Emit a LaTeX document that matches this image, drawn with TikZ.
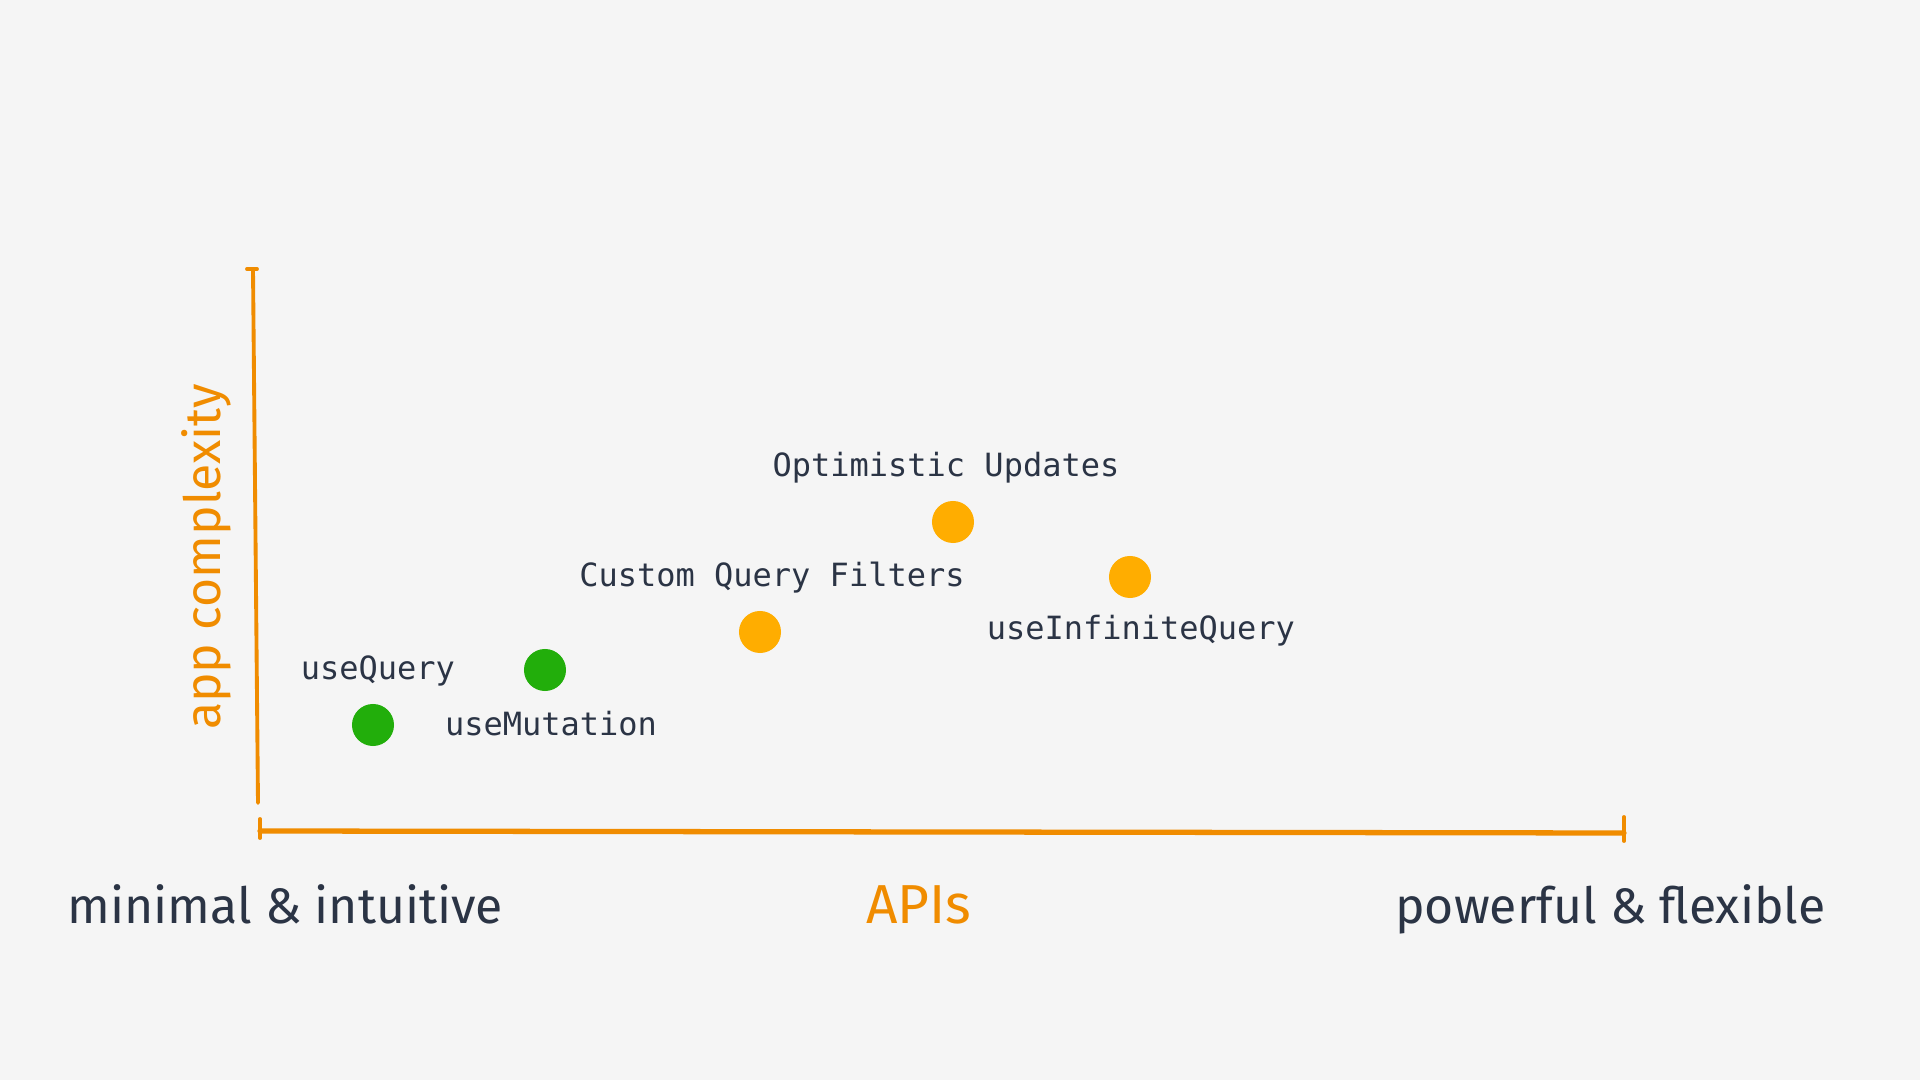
\documentclass[tikz,border=0pt]{standalone}
\usepackage{fontspec}
\setmainfont{Fira Sans}
\newfontfamily\codefont{DejaVu Sans Mono}
\usepackage{xcolor}
\usetikzlibrary{positioning}

\definecolor{paper}{HTML}{F5F5F5}
\definecolor{axisorange}{HTML}{F08C00}
\definecolor{ink}{HTML}{2B3445}
\definecolor{dotgreen}{HTML}{22AE0B}
\definecolor{dotamber}{HTML}{FFAD00}

\tikzset{
  axisline/.style={draw=axisorange, line width=1.1pt, line cap=round},
  tickline/.style={draw=axisorange, line width=1.1pt, line cap=round},
  apidot/.style={circle, inner sep=0pt, minimum size=0.42cm},
  apilabel/.style={font=\codefont\fontsize{9.1}{11}\selectfont, text=ink, inner sep=0pt},
  handtext/.style={font=\fontsize{14.2}{17}\selectfont, inner sep=0pt}
}

\begin{document}
\begin{tikzpicture}[x=0.01cm, y=-0.01cm, node distance=0.54cm, on grid]
    \fill[paper] (0,0) rectangle (1920,1080);
    \useasboundingbox (0,0) rectangle (1920,1080);

    % axes
    \coordinate (ytop) at (253,269);
    \coordinate (origin) at (258,803);
    \coordinate (xleft) at (260,831);
    \coordinate (xright) at (1624,833);
    \draw[axisline] (ytop) -- (origin);
    \draw[axisline, line width=1.5pt] (xleft) -- (xright);
    \draw[tickline] ([shift={(-6,0)}]ytop) -- ([shift={(4,0)}]ytop);
    \draw[tickline] ([shift={(0,-12)}]xleft) -- ([shift={(0,7)}]xleft);
    \draw[tickline] ([shift={(0,-16)}]xright) -- ([shift={(0,8)}]xright);

    % dots
    \node[apidot, fill=dotgreen] (query)    at (373,725) {};
    \node[apidot, fill=dotgreen] (mutation) at (545,670) {};
    \node[apidot, fill=dotamber] (filters)  at (760,632) {};
    \node[apidot, fill=dotamber] (optimist) at (953,522) {};
    \node[apidot, fill=dotamber] (infinite) at (1130,577) {};

    % labels
    \node[apilabel, xshift=1.4pt] (querylbl)    [above=of query]    {useQuery};
    \node[apilabel, xshift=1.7pt] (mutationlbl) [below=of mutation] {useMutation};
    \node[apilabel, xshift=3.4pt] (filterslbl)  [above=of filters]  {Custom Query Filters};
    \node[apilabel, xshift=-2pt]  (optimistlbl) [above=of optimist] {Optimistic Updates};
    \node[apilabel, xshift=3.1pt] (infinitelbl) [below=of infinite] {useInfiniteQuery};

    % axis titles
    \node[handtext, text=axisorange, rotate=90] (ytitle) at (206,557) {app complexity};
    \node[handtext, text=ink, anchor=base west] (minimal) at (67,924) {minimal \& intuitive};
    \node[handtext, text=axisorange, anchor=base, scale=1.1] (apis) at (919,924) {APIs};
    \node[handtext, text=ink, anchor=base east] (powerful) at (1826,924) {powerful \& flexible};
\end{tikzpicture}
\end{document}
